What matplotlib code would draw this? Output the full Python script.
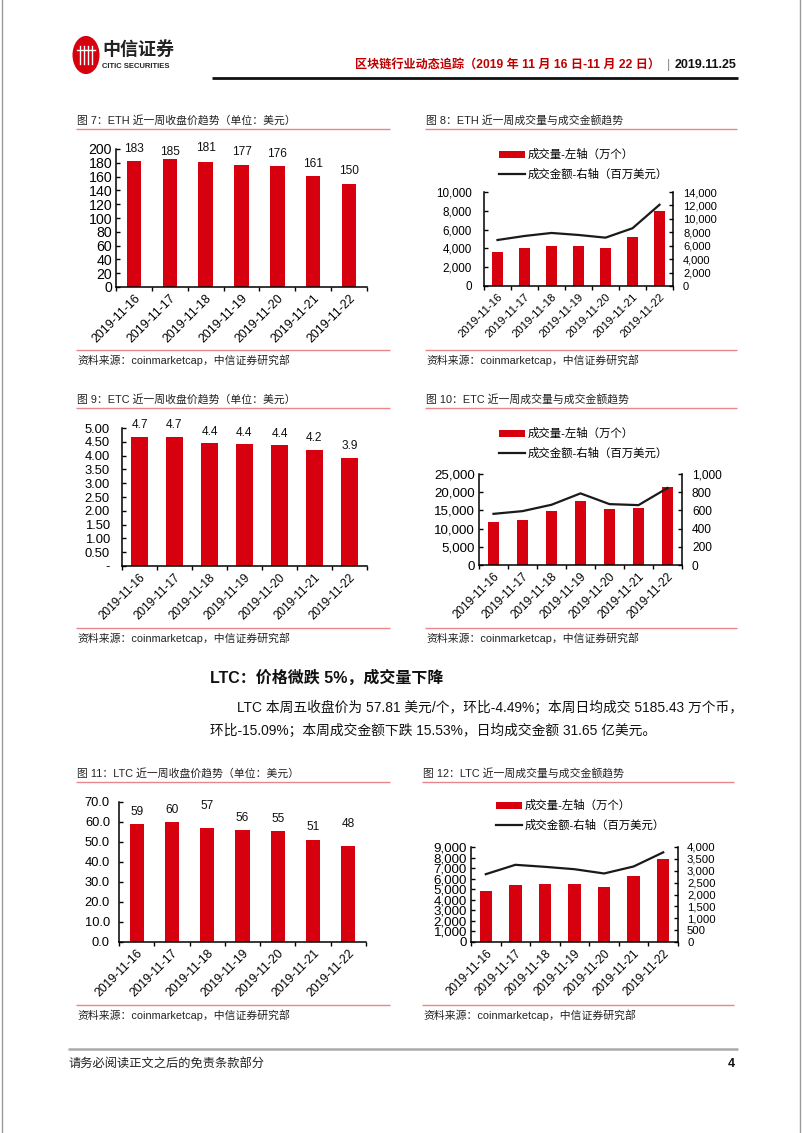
import numpy as np
import matplotlib
matplotlib.use("Agg")
import matplotlib.pyplot as plt
from matplotlib.lines import Line2D
from matplotlib.patches import Circle
from matplotlib.ticker import FuncFormatter, FixedLocator

plt.rcParams['font.family'] = ['Liberation Sans', 'Noto Sans CJK SC', 'DejaVu Sans']
plt.rcParams['axes.unicode_minus'] = False

# ---------------- data ----------------
dates = ['2019-11-16', '2019-11-17', '2019-11-18', '2019-11-19',
         '2019-11-20', '2019-11-21', '2019-11-22']

eth_close = [183, 185, 181, 177, 176, 161, 150]
eth_volume = [3650, 4000, 4290, 4210, 4070, 5250, 8000]          # 万个
eth_amount = [6850, 7450, 7900, 7600, 7200, 8600, 12100]          # 百万美元

etc_close = [4.67, 4.66, 4.44, 4.42, 4.38, 4.19, 3.90]
etc_volume = [11950, 12500, 14700, 17650, 15350, 15700, 21500]
etc_amount = [562, 592, 662, 787, 669, 658, 846]

ltc_close = [58.9, 59.8, 57.0, 55.9, 55.3, 51.1, 47.8]
ltc_volume = [4870, 5410, 5500, 5470, 5180, 6230, 7860]
ltc_amount = [2855, 3250, 3165, 3065, 2885, 3180, 3775]

eth_price_ticks = [0, 20, 40, 60, 80, 100, 120, 140, 160, 180, 200]
etc_price_ticks = [0, 0.5, 1.0, 1.5, 2.0, 2.5, 3.0, 3.5, 4.0, 4.5, 5.0]
ltc_price_ticks = [0, 10, 20, 30, 40, 50, 60, 70]
eth_vol_ticks = [0, 2000, 4000, 6000, 8000, 10000]
eth_amt_ticks = [0, 2000, 4000, 6000, 8000, 10000, 12000, 14000]
etc_vol_ticks = [0, 5000, 10000, 15000, 20000, 25000]
etc_amt_ticks = [0, 200, 400, 600, 800, 1000]
ltc_vol_ticks = [0, 1000, 2000, 3000, 4000, 5000, 6000, 7000, 8000, 9000]
ltc_amt_ticks = [0, 500, 1000, 1500, 2000, 2500, 3000, 3500, 4000]

titles = ['图 7：ETH 近一周收盘价趋势（单位：美元）',
          '图 8：ETH 近一周成交量与成交金额趋势',
          '图 9：ETC 近一周收盘价趋势（单位：美元）',
          '图 10：ETC 近一周成交量与成交金额趋势',
          '图 11：LTC 近一周收盘价趋势（单位：美元）',
          '图 12：LTC 近一周成交量与成交金额趋势']
source = '资料来源：coinmarketcap，中信证券研究部'
legend_vol = '成交量-左轴（万个）'
legend_amt = '成交金额-右轴（百万美元）'
header_title = '区块链行业动态追踪（2019 年 11 月 16 日-11 月 22 日）'
header_date = '2019.11.25'
section_heading = 'LTC：价格微跌 5%，成交量下降'
para_line1 = 'LTC 本周五收盘价为 57.81 美元/个，环比-4.49%；本周日均成交 5185.43 万个币，'
para_line2 = '环比-15.09%；本周成交金额下跌 15.53%，日均成交金额 31.65 亿美元。'
footer_text = '请务必阅读正文之后的免责条款部分'
page_no = '4'

# label offsets above bar tops (pixels) - style only
eth_lab_off = [12, 7, 14, 13, 12, 12, 12]
etc_lab_off = [12, 12, 11, 11, 11, 12, 12]
ltc_lab_off = [12, 12, 22, 12, 12, 13, 22]

# ---------------- figure ----------------
W, H = 802, 1133
fig = plt.figure(figsize=(W / 100, H / 100), dpi=100)
RED = '#D7000F'
PINK = '#E7868C'


def fx(x):
    return x / W


def fy(y):
    return 1 - y / H


def hline(x1, x2, y, color, lw):
    fig.add_artist(Line2D([fx(x1), fx(x2)], [fy(y), fy(y)], transform=fig.transFigure,
                          color=color, lw=lw, solid_capstyle='butt'))


def rect(l, r, top, bottom):
    return [fx(l), fy(bottom), fx(r) - fx(l), (bottom - top) / H]


# page frame
for xx in (1.5, 800):
    fig.add_artist(Line2D([fx(xx), fx(xx)], [0, 1], transform=fig.transFigure,
                          color='#9a9a9a', lw=1.0))

# header logo
fig.add_artist(Circle((fx(86), fy(55)), 13.5 / W, transform=fig.transFigure,
                      facecolor=RED, edgecolor='none'))
for dx in (-6, -2, 2, 6):
    fig.add_artist(Line2D([fx(86 + dx), fx(86 + dx)], [fy(46), fy(64)],
                          transform=fig.transFigure, color='white', lw=1.0))
fig.add_artist(Line2D([fx(77), fx(95)], [fy(50), fy(50)], transform=fig.transFigure,
                      color='white', lw=1.0))
fig.text(fx(102), fy(50), '中信证券', fontsize=13, fontweight='bold', color='#222222',
         va='center', ha='left')
fig.text(fx(102), fy(66), 'CITIC SECURITIES', fontsize=5.5, fontweight='bold',
         color='#222222', va='center', ha='left')

fig.text(fx(660), fy(65), header_title, fontsize=8.7, fontweight='bold', color='#C00000',
         ha='right', va='center')
fig.text(fx(668), fy(65), '|', fontsize=9, color='#888888', ha='center', va='center')
fig.text(fx(675), fy(65), header_date, fontsize=9, fontweight='bold', color='#111111',
         ha='left', va='center')
hline(212, 738, 78, '#111111', 2.0)

# footer
hline(68, 738, 1049, '#aaaaaa', 1.8)
fig.text(fx(68), fy(1064), footer_text, fontsize=8.8, color='#222222', ha='left', va='center')
fig.text(fx(735), fy(1064), page_no, fontsize=9, fontweight='bold', color='#111111',
         ha='right', va='center')

# section text
fig.text(fx(210), fy(678), section_heading, fontsize=11.5, fontweight='bold',
         color='#111111', ha='left', va='center')
fig.text(fx(237), fy(708), para_line1, fontsize=9.9, color='#111111', ha='left', va='center')
fig.text(fx(210), fy(731), para_line2, fontsize=9.9, color='#111111', ha='left', va='center')


def chart_frame(idx, x_left, x_right, y_title, y_src):
    fig.text(fx(x_left + 1), fy(y_title), titles[idx], fontsize=7.8, color='#222222',
             ha='left', va='center')
    hline(x_left, x_right, y_title + 9, PINK, 1.0)
    hline(x_left, x_right, y_src, PINK, 1.0)
    fig.text(fx(x_left + 1), fy(y_src + 10), source, fontsize=7.8, color='#222222',
             ha='left', va='center')


def style_axis(ax, xsize, ysize, ypad):
    for s in ('top', 'right'):
        ax.spines[s].set_visible(False)
    ax.spines['left'].set_linewidth(1.1)
    ax.spines['bottom'].set_linewidth(1.1)
    x = np.arange(len(dates))
    ax.set_xlim(-0.5, len(dates) - 0.5)
    ax.set_xticks(x)
    ax.set_xticklabels(dates, rotation=45, ha='right', va='top', rotation_mode='anchor',
                       fontsize=xsize)
    ax.tick_params(axis='x', which='major', length=0, pad=4)
    ax.xaxis.set_minor_locator(FixedLocator(np.arange(-0.5, len(dates), 1.0)))
    ax.tick_params(axis='x', which='minor', length=3, width=1.0, direction='out')
    ax.tick_params(axis='y', direction='in', length=3, width=1.0, pad=ypad * 0.72,
                   labelsize=ysize)


def price_chart(box, values, ticks, fmt, lab_fmt, offs, width, xsize, ysize, ypad):
    ax = fig.add_axes(box)
    x = np.arange(len(dates))
    ax.bar(x, values, width=width, color=RED, zorder=2)
    ax.set_ylim(ticks[0], ticks[-1])
    ax.set_yticks(ticks)
    ax.yaxis.set_major_formatter(FuncFormatter(fmt))
    style_axis(ax, xsize, ysize, ypad)
    for xi, v, o in zip(x, values, offs):
        ax.annotate(lab_fmt(v), (xi, v), xytext=(0, o * 0.72), textcoords='offset points',
                    ha='center', va='center', fontsize=8.6, color='#111111',
                    annotation_clip=False)
    return ax


def vol_chart(box, vol, amt, lticks, rticks, width, leg_xy, xsize, lsize, lpad, rsize, rpad):
    ax = fig.add_axes(box)
    x = np.arange(len(dates))
    bars = ax.bar(x, vol, width=width, color=RED, zorder=2, label=legend_vol)
    ax.set_ylim(lticks[0], lticks[-1])
    ax.set_yticks(lticks)
    ax.yaxis.set_major_formatter(FuncFormatter(lambda v, p: f'{v:,.0f}'))
    style_axis(ax, xsize, lsize, lpad)
    ax2 = ax.twinx()
    line, = ax2.plot(x, amt, color='#1a1a1a', lw=1.6, label=legend_amt)
    ax2.set_ylim(rticks[0], rticks[-1])
    ax2.set_yticks(rticks)
    ax2.yaxis.set_major_formatter(FuncFormatter(lambda v, p: f'{v:,.0f}'))
    for s in ('top', 'left', 'bottom'):
        ax2.spines[s].set_visible(False)
    ax2.spines['right'].set_linewidth(1.1)
    ax2.tick_params(axis='y', direction='in', length=3, width=1.0, pad=rpad * 0.72,
                    labelsize=rsize)
    fig.legend(handles=[bars, line], loc='upper left',
               bbox_to_anchor=(fx(leg_xy[0]), fy(leg_xy[1])), bbox_transform=fig.transFigure,
               frameon=False, fontsize=8.2, handlelength=2.3, handleheight=0.55,
               handletextpad=0.25, labelspacing=0.75, borderpad=0, borderaxespad=0)
    return ax


def fmt_int(v, p):
    return f'{v:.0f}'


def fmt_etc(v, p):
    return '-' if abs(v) < 1e-9 else f'{v:.2f}'


def fmt_one(v, p):
    return f'{v:.1f}'


# ETH
chart_frame(0, 76, 390, 120, 350)
price_chart(rect(116, 367, 149, 287), eth_close, eth_price_ticks, fmt_int,
            lambda v: f'{v:.0f}', eth_lab_off, 0.4, 8.9, 10.2, 4)
chart_frame(1, 425, 737, 120, 350)
vol_chart(rect(484, 673, 192, 286), eth_volume, eth_amount, eth_vol_ticks, eth_amt_ticks,
          0.4, (499, 149), 8.1, 8.4, 12, 8.0, 10)

# ETC
chart_frame(2, 76, 390, 399, 628)
price_chart(rect(122, 367, 428, 566), etc_close, etc_price_ticks, fmt_etc,
            lambda v: f'{v:.1f}', etc_lab_off, 0.5, 8.5, 9.4, 12)
chart_frame(3, 425, 737, 399, 628)
vol_chart(rect(479, 682, 474, 565), etc_volume, etc_amount, etc_vol_ticks, etc_amt_ticks,
          0.38, (499, 428), 8.5, 9.6, 4, 8.6, 10)

# LTC
chart_frame(4, 76, 390, 773, 1005)
price_chart(rect(119, 366, 802, 942), ltc_close, ltc_price_ticks, fmt_one,
            lambda v: f'{v:.0f}', ltc_lab_off, 0.4, 8.8, 9.3, 9)
chart_frame(5, 422, 734, 773, 1005)
vol_chart(rect(471, 678, 847, 942), ltc_volume, ltc_amount, ltc_vol_ticks, ltc_amt_ticks,
          0.42, (496, 800), 8.5, 9.6, 4, 8.2, 9)

fig.savefig('out.png', dpi=100, facecolor='white')
